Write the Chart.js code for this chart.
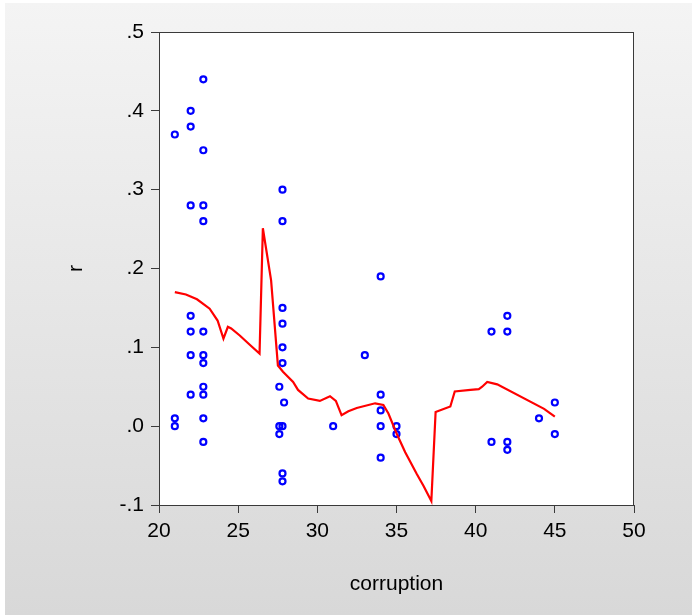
<!DOCTYPE html>
<html>
<head>
<meta charset="utf-8">
<script src="https://cdn.jsdelivr.net/npm/chart.js@4.4.1/dist/chart.umd.min.js"></script>
<style>
  html, body { margin: 0; padding: 0; background: #fff; }
  #wrap { position: relative; width: 692px; height: 615px; overflow: hidden; }
  #panel { position: absolute; left: 5px; top: 3px; right: 0; bottom: 0; background: linear-gradient(#f4f4f4, #d8d8d8); }
  #r-chart { position: absolute; left: 0; top: 0; }
</style>
</head>
<body>
<div id="wrap">
  <div id="panel"></div>
  <canvas id="r-chart" width="692" height="615"></canvas>
</div>
<script>
// Data: observations (corruption, r)
const obsX = [
  21, 21, 21,
  22, 22, 22, 22, 22, 22, 22,
  22.8, 22.8, 22.8, 22.8, 22.8, 22.8, 22.8, 22.8, 22.8, 22.8, 22.8,
  27.8, 27.8, 27.8, 27.8, 27.8, 27.8, 27.9, 27.8, 27.8, 27.8,
  27.6, 27.6, 27.6,
  31, 33,
  34, 34, 34, 34, 34,
  35, 35,
  41, 41,
  42, 42, 42, 42,
  44, 45, 45
];
const obsR = [
  0.37, 0.01, 0.00,
  0.40, 0.38, 0.28, 0.14, 0.12, 0.09, 0.04,
  0.44, 0.35, 0.28, 0.26, 0.12, 0.09, 0.08, 0.05, 0.04, 0.01, -0.02,
  0.30, 0.26, 0.15, 0.13, 0.10, 0.08, 0.03, 0.00, -0.06, -0.07,
  0.05, 0.00, -0.01,
  0.00, 0.09,
  0.19, 0.04, 0.02, 0.00, -0.04,
  0.00, -0.01,
  0.12, -0.02,
  0.14, 0.12, -0.02, -0.03,
  0.01, 0.03, -0.01
];

// Data: fitted curve
const fitX = [21.0, 21.7, 22.4, 23.2, 23.7, 24.07, 24.35, 24.56, 25.1, 25.75, 26.35, 26.56, 27.08, 27.51,
  27.83, 28.47, 28.78, 29.42, 30.16, 30.8, 31.17, 31.53, 31.96, 32.49, 33.65, 34.17, 34.49, 35.02,
  35.55, 36.29, 36.71, 37.2, 37.47, 38.4, 38.68, 39.67, 40.2, 40.41, 40.73, 41.36, 44.32, 45.0];
const fitY = [0.170, 0.167, 0.161, 0.149, 0.134, 0.111, 0.126, 0.124, 0.115, 0.103, 0.092, 0.251, 0.185, 0.077,
  0.069, 0.056, 0.046, 0.035, 0.032, 0.038, 0.032, 0.014, 0.019, 0.023, 0.029, 0.027, 0.016, -0.010,
  -0.033, -0.061, -0.076, -0.095, 0.018, 0.025, 0.044, 0.046, 0.047, 0.050, 0.056, 0.053, 0.022, 0.012];

// Axis ranges
const xRange = { min: 20, max: 50, step: 5 };
const yRange = { min: -0.1, max: 0.5, step: 0.1 };

// Helpers
const fmtR = (v) => {
  const n = Math.abs(v) < 1e-9 ? 0 : Number(v);
  return n.toFixed(1).replace("0.", ".");
};
const toPoints = (xs, ys) => xs.map((x, i) => ({ x, y: ys[i] }));

const FONT = { family: "'Liberation Sans', Arial, sans-serif", size: 21 };
const AXIS_COLOR = "#3a3a3a";

// Plugins
const plotFrame = {
  id: "plotFrame",
  beforeDatasetsDraw: (chart) => {
    const { ctx, chartArea: a } = chart;
    ctx.save();
    ctx.fillStyle = "#ffffff";
    ctx.fillRect(a.left, a.top, a.right - a.left, a.bottom - a.top);
    ctx.restore();
  },
  afterDatasetsDraw: (chart) => {
    const { ctx, chartArea: a } = chart;
    ctx.save();
    ctx.strokeStyle = AXIS_COLOR;
    ctx.lineWidth = 1;
    ctx.strokeRect(a.left + 0.5, a.top + 0.5, a.right - a.left - 1, a.bottom - a.top);
    ctx.restore();
  }
};

const ctx = document.getElementById("r-chart").getContext("2d");
new Chart(ctx, {
  type: "scatter",
  data: {
    datasets: [
      {
        label: "fit",
        data: toPoints(fitX, fitY),
        showLine: true,
        borderColor: "#ff0000",
        borderWidth: 2.2,
        pointRadius: 0,
        tension: 0,
        fill: false
      },
      {
        label: "r",
        data: toPoints(obsX, obsR),
        pointStyle: "circle",
        pointRadius: 3,
        pointBorderWidth: 2.2,
        borderColor: "#0000ff",
        backgroundColor: "rgba(255,255,255,0)"
      }
    ]
  },
  options: {
    responsive: false,
    animation: false,
    layout: { padding: { top: 32, right: 58, bottom: 0, left: 0 } },
    plugins: { legend: { display: false }, tooltip: { enabled: false } },
    scales: {
      x: {
        type: "linear",
        min: xRange.min,
        max: xRange.max,
        afterFit: (s) => { s.height = 110; s.paddingLeft = 0; s.paddingRight = 0; },
        ticks: { stepSize: xRange.step, color: "#000", font: FONT, padding: 6, maxRotation: 0 },
        grid: { drawOnChartArea: false, drawTicks: true, tickLength: 8, color: AXIS_COLOR },
        border: { display: false },
        title: { display: true, text: "corruption", color: "#000", font: FONT, padding: { top: 0, bottom: 18 } }
      },
      y: {
        type: "linear",
        min: yRange.min,
        max: yRange.max,
        afterFit: (s) => { s.width = 159; s.paddingTop = 0; s.paddingBottom = 0; },
        ticks: { stepSize: yRange.step, color: "#000", font: FONT, padding: 7, callback: (v) => fmtR(v) },
        grid: { drawOnChartArea: false, drawTicks: true, tickLength: 8, color: AXIS_COLOR },
        border: { display: false },
        title: { display: true, text: "r", color: "#000", font: FONT, padding: { top: 64, bottom: 0 } }
      }
    }
  },
  plugins: [plotFrame]
});
</script>
</body>
</html>
